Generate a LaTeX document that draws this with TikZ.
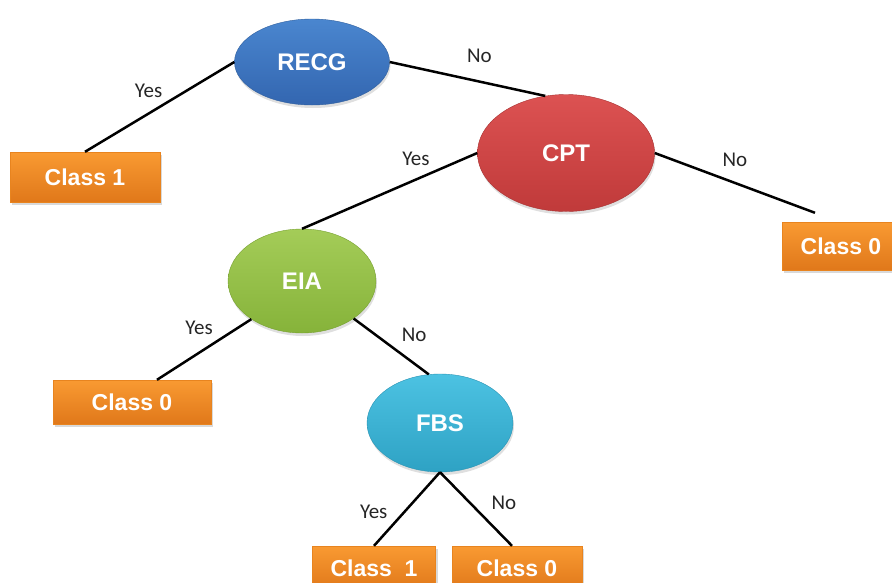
\documentclass[tikz,border=0pt]{standalone}
\usepackage{fontspec}
\setmainfont{Carlito}
\newfontfamily\nodefont{Liberation Sans}
\usetikzlibrary{shapes.geometric,shadows}
\definecolor{recgtop}{HTML}{4A86CF}
\definecolor{recgbot}{HTML}{3366B0}
\definecolor{recgline}{HTML}{2F5F9E}
\definecolor{cpttop}{HTML}{DC5252}
\definecolor{cptbot}{HTML}{C03A3A}
\definecolor{cptline}{HTML}{A83232}
\definecolor{eiatop}{HTML}{A4CC58}
\definecolor{eiabot}{HTML}{86B33A}
\definecolor{eialine}{HTML}{76A030}
\definecolor{fbstop}{HTML}{4CC2E2}
\definecolor{fbsbot}{HTML}{2EA2C4}
\definecolor{fbsline}{HTML}{2A93B3}
\definecolor{classtop}{HTML}{F99A32}
\definecolor{classbot}{HTML}{E0781A}
\definecolor{classline}{HTML}{E8841F}
\tikzset{
  test/.style={
    ellipse,
    inner sep=0pt,
    font=\nodefont\bfseries\fontsize{24}{28}\selectfont,
    text=white,
    drop shadow={opacity=0.25, shadow xshift=1pt, shadow yshift=-3pt}
  },
  leaf/.style={
    rectangle,
    draw=classline,
    top color=classtop,
    bottom color=classbot,
    minimum height=44pt,
    inner sep=0pt,
    font=\nodefont\bfseries\fontsize{23}{27}\selectfont,
    text=white,
    drop shadow={opacity=0.3, shadow xshift=2pt, shadow yshift=-3pt}
  },
  branch/.style={
    line width=2.5pt,
    draw=black
  },
  answer/.style={
    font=\fontsize{21}{25}\selectfont,
    text=black!85
  }
}
\begin{document}
\begin{tikzpicture}[x=1pt,y=-1pt]
\useasboundingbox (0,0) rectangle (892,582);

% decision nodes
\node[test, draw=recgline, top color=recgtop, bottom color=recgbot,
  minimum width=155pt, minimum height=86pt] (recg) at (312,62) {RECG};
\node[test, draw=cptline, top color=cpttop, bottom color=cptbot,
  minimum width=177pt, minimum height=117pt] (cpt) at (566,153) {CPT};
\node[test, draw=eialine, top color=eiatop, bottom color=eiabot,
  minimum width=148pt, minimum height=104pt] (eia) at (302,281) {EIA};
\node[test, draw=fbsline, top color=fbstop, bottom color=fbsbot,
  minimum width=146pt, minimum height=98pt] (fbs) at (440,423) {FBS};

% leaves
\node[leaf, minimum width=150pt, minimum height=50pt] (leafa) at (85,177) {Class 1};
\node[leaf, minimum width=118pt, minimum height=48pt] (leafb) at (841,246) {Class 0};
\node[leaf, minimum width=158pt] (leafc) at (132,402) {Class 0};
\node[leaf, minimum width=123pt] (leafd) at (374,568) {Class\ \ 1};
\node[leaf, minimum width=130pt] (leafe) at (517,568) {Class 0};

% branches
\draw[branch] (recg.west) -- node[midway, above=5pt, xshift=-11pt, answer] {Yes} (leafa.north);
\draw[branch] (recg.east) -- node[midway, above=12pt, xshift=12pt, answer] {No} (cpt.110);
\draw[branch] (cpt.west) -- node[pos=0.35, above=9pt, answer] {Yes} (eia.north);
\draw[branch] (cpt.east) -- node[midway, above=12pt, answer] {No} ([xshift=-26pt,yshift=9pt]leafb.north);
\draw[branch] (eia.217) -- node[midway, above=10pt, xshift=-5pt, answer] {Yes} ([xshift=25pt]leafc.north);
\draw[branch] (eia.-36) -- node[midway, above right=0pt, xshift=6pt, answer] {No} (fbs.103);
\draw[branch] (fbs.south) -- node[midway, left=15pt, yshift=-3pt, answer] {Yes} (leafd.north);
\draw[branch] (fbs.south) -- node[midway, right=11pt, yshift=6pt, answer] {No} ([xshift=-5pt]leafe.north);

\end{tikzpicture}
\end{document}
